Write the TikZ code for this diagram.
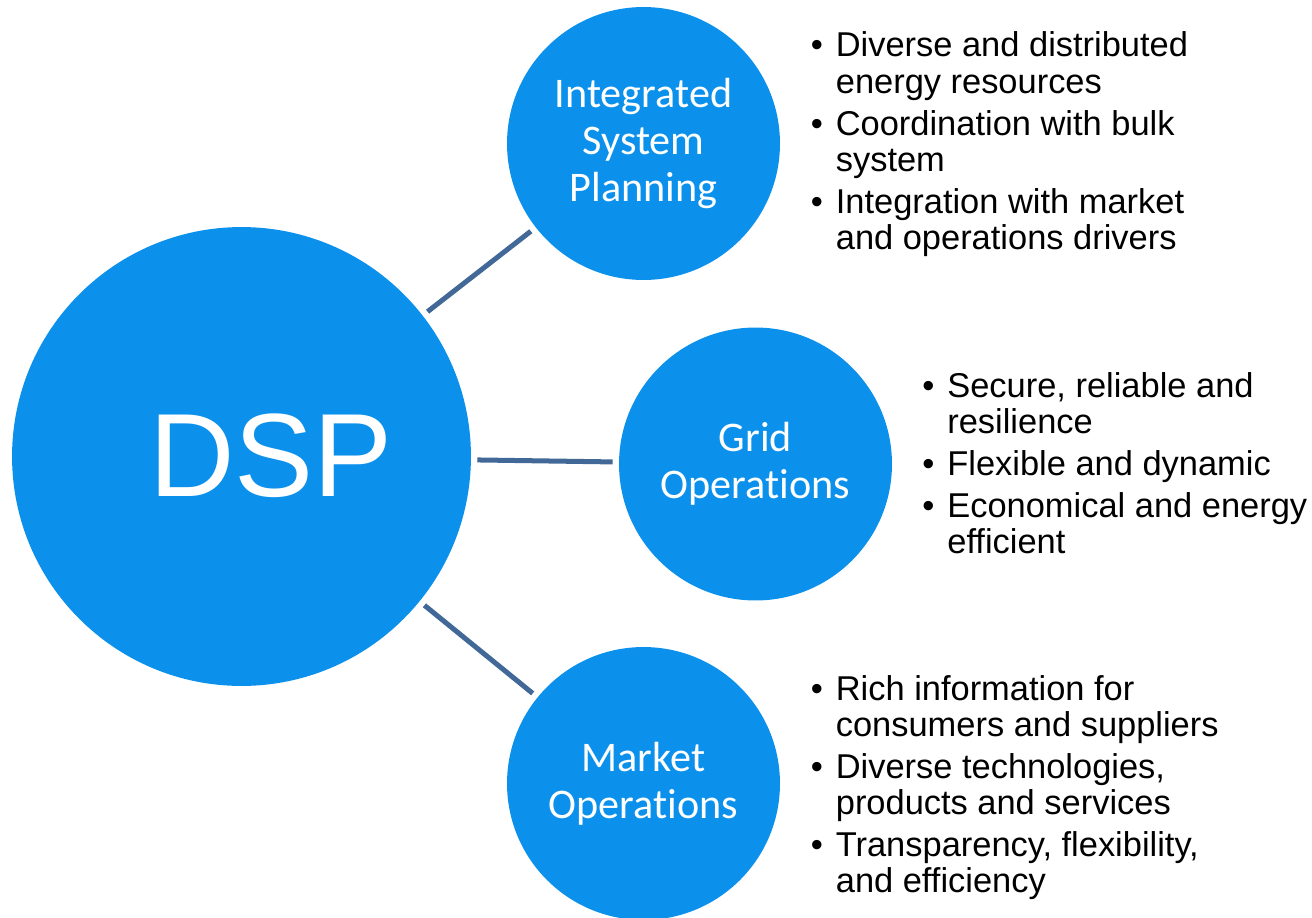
\documentclass[tikz,border=0pt]{standalone}
\usepackage{fontspec}
\setmainfont{Liberation Sans}
\newfontfamily\calibrifont[Ligatures=NoCommon]{Carlito}
\usepackage{tikz}
\usetikzlibrary{positioning}

\definecolor{dspblue}{RGB}{11,145,236}
\definecolor{linkblue}{RGB}{65,104,150}

% bullet column of the point lists
\newcommand{\bul}{\makebox[0.5cm][l]{\textbullet}}

\begin{document}
\begin{tikzpicture}[
    x=0.02cm, y=-0.02cm,
    hub/.style={circle, fill=dspblue, minimum size=9.18cm, inner sep=0pt},
    hubtext/.style={text=white, inner sep=0pt, anchor=base, font=\fontsize{67.4}{70}\selectfont},
    area/.style={circle, fill=dspblue, minimum size=5.46cm, inner sep=0pt, text=white, align=center, font=\calibrifont\fontsize{24}{26.75}\selectfont},
    link/.style={draw=linkblue, line width=2.85pt, shorten <=0.12cm, shorten >=0.12cm},
    points/.style={anchor=base west, inner sep=0pt, font=\fontsize{19.6}{20.66}\selectfont}
]

\useasboundingbox (0,0) rectangle (1312,917);

% Hub circle
\node[hub] (dsp) at (241.5,456.5) {};
\node[hubtext] (dsp_label) at (271,496.7) {DSP};

% Three areas
\node[area] (isp) at (643.5,143.5) {Integrated\\System\\Planning};
\node[area] (grid) at (755.5,464) {Grid\\Operat\kern0pt ions};
\node[area] (market) at (643.5,783.5) {Market\\Operat\kern0pt ions};

% Links from the hub
\draw[link] (dsp) -- (isp);
\draw[link] (dsp) -- (grid);
\draw[link] (dsp) -- (market);

% Point lists
\node[points] (isp_points) at (810.5,56.7) {\begin{tabular}[t]{@{}l@{}l@{}}
\bul & Diverse and distributed\\
     & energy resources\\[0.114cm]
\bul & Coordination with bulk\\
     & system\\[0.114cm]
\bul & Integration with market\\
     & and operations drivers
\end{tabular}};

\node[points] (grid_points) at (922,397) {\begin{tabular}[t]{@{}l@{}l@{}}
\bul & Secure, reliable and\\
     & resilience\\[0.114cm]
\bul & Flexible and dynamic\\[0.114cm]
\bul & Economical and energy\\
     & efficient
\end{tabular}};

\node[points] (market_points) at (810.5,700) {\begin{tabular}[t]{@{}l@{}l@{}}
\bul & Rich information for\\
     & consumers and suppliers\\[0.114cm]
\bul & Diverse technologies,\\
     & products and services\\[0.114cm]
\bul & Transparency, flexibility,\\
     & and efficiency
\end{tabular}};

\end{tikzpicture}
\end{document}
